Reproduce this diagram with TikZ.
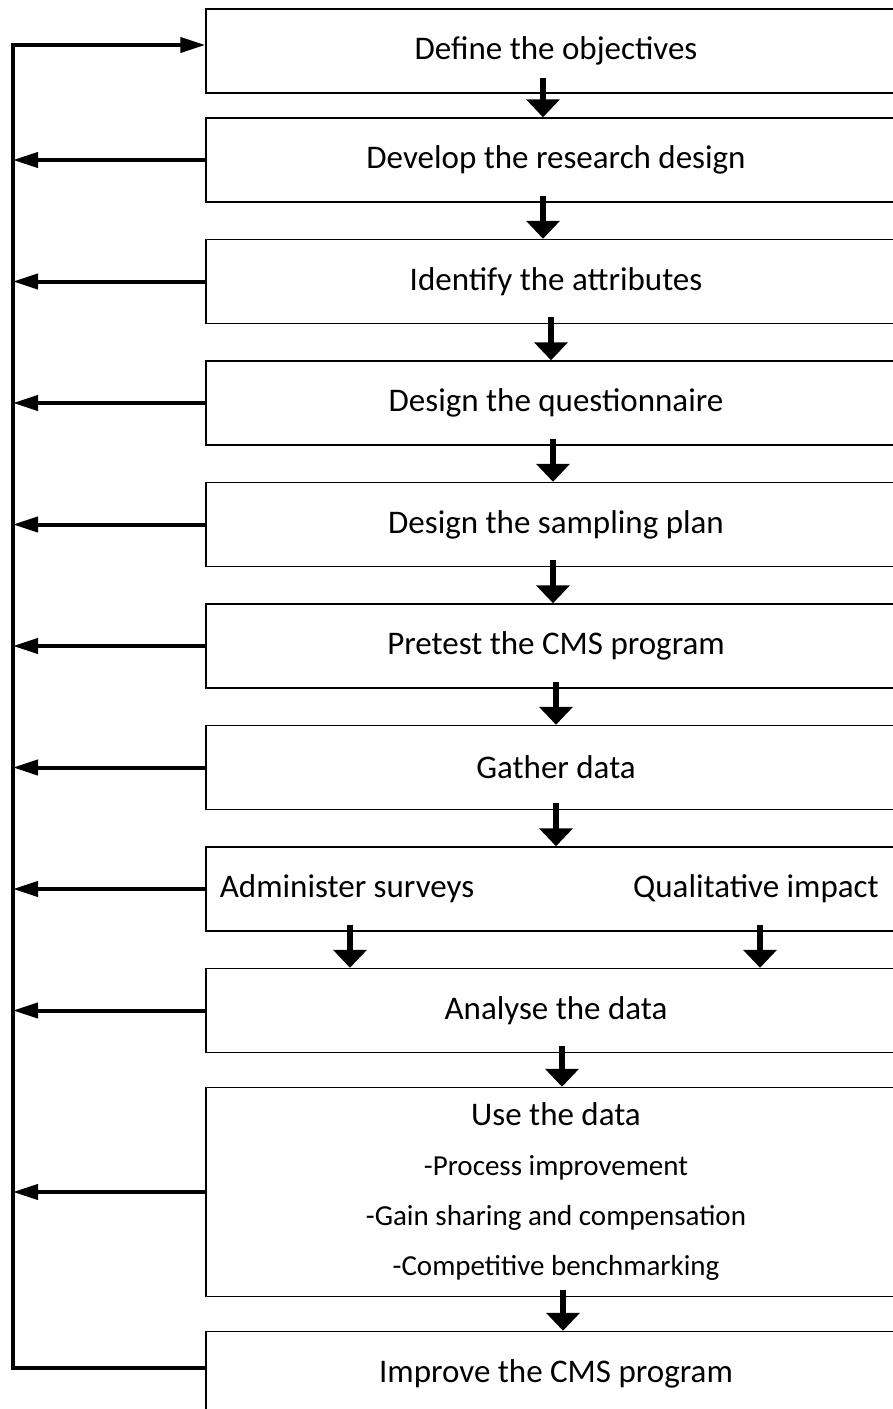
\documentclass[tikz,border=0pt]{standalone}
\usepackage{fontspec}
\setmainfont{Carlito}
\usetikzlibrary{arrows.meta,calc,positioning}
\tikzset{%
	stage/.style    = {draw, line width=0.75pt, rectangle, minimum width=350pt, minimum height=42pt, text centered, font=\fontsize{16.5}{20}\selectfont},
	usestage/.style = {stage, minimum height=104.5pt, align=center, font=\fontsize{16.5}{25}\selectfont},
	sublabel/.style = {inner sep=0pt, font=\fontsize{16.5}{20}\selectfont},
	flow/.style     = {line width=2.75pt, -{Triangle[length=9pt,width=16.5pt]}},
	feedback/.style = {line width=2pt, -{Triangle[length=12.5pt,width=7.5pt]}},
}
\newcommand{\subsize}{\fontsize{14.5}{25}\selectfont}

\begin{document}
\begin{tikzpicture}[node distance = 18pt]
	\useasboundingbox (0,0) rectangle (446.5pt,-704.5pt);
	\clip (0,0) rectangle (446.5pt,-704.5pt);
	\node[stage] (obj) at (278pt,-25.5pt) {Define the objectives};
	\node[stage,below=11.75pt of obj] (design) {Develop the research design};
	\node[stage,below=of design] (attrib) {Identify the attributes};
	\node[stage,below=of attrib] (quest) {Design the questionnaire};
	\node[stage,below=of quest] (sample) {Design the sampling plan};
	\node[stage,below=of sample] (pretest) {Pretest the CMS program};
	\node[stage,below=of pretest] (gather) {Gather data};
	\node[stage,below=of gather] (collect) {};
	\node[sublabel] (survey) at ([xshift=-104.5pt]collect.center) {Administer surveys};
	\node[sublabel] (impact) at ([xshift=100pt]collect.center) {Qualitative impact};
	\node[stage,below=of collect] (analyse) {Analyse the data};
	\node[usestage,below=16.75pt of analyse] (use) {Use the data\\\subsize -Process improvement\\\subsize -Gain sharing and compensation\\\subsize -Competitive benchmarking};
	\node[stage,below=16.75pt of use] (improve) {Improve the CMS program};
	\coordinate (rail) at (6.5pt,-22.5pt);

	\draw[flow] ([xshift=-6.5pt,yshift=8pt]obj.south) -- ([xshift=-6.5pt]design.north);
	\draw[flow] ([xshift=-6.5pt,yshift=3.5pt]design.south) -- ([xshift=-6.5pt]attrib.north);
	\draw[flow] ([xshift=-2.5pt,yshift=3.5pt]attrib.south) -- ([xshift=-2.5pt]quest.north);
	\draw[flow] ([xshift=-1.5pt,yshift=3.5pt]quest.south) -- ([xshift=-1.5pt]sample.north);
	\draw[flow] ([xshift=-1.5pt,yshift=3.5pt]sample.south) -- ([xshift=-1.5pt]pretest.north);
	\draw[flow] ([yshift=3.5pt]pretest.south) -- (gather.north);
	\draw[flow] ([yshift=3.5pt]gather.south) -- (collect.north);
	\draw[flow] ($(survey |- collect.south)+(1.5pt,3.5pt)$) -- ($(survey |- analyse.north)+(1.5pt,0)$);
	\draw[flow] ($(impact |- collect.south)+(2pt,3.5pt)$) -- ($(impact |- analyse.north)+(2pt,0)$);
	\draw[flow] ([xshift=3pt,yshift=3.5pt]analyse.south) -- ([xshift=3pt]use.north);
	\draw[flow] ([xshift=3.5pt,yshift=3.5pt]use.south) -- ([xshift=3.5pt]improve.north);

	% loop back to the objectives
	\draw[feedback] ([yshift=3pt]improve.west) -| (rail) -- ([yshift=3pt]obj.west);
	\draw[feedback] (design.west) -- (design.west -| rail);
	\draw[feedback] (attrib.west) -- (attrib.west -| rail);
	\draw[feedback] (quest.west) -- (quest.west -| rail);
	\draw[feedback] (sample.west) -- (sample.west -| rail);
	\draw[feedback] (pretest.west) -- (pretest.west -| rail);
	\draw[feedback] (gather.west) -- (gather.west -| rail);
	\draw[feedback] (collect.west) -- (collect.west -| rail);
	\draw[feedback] (analyse.west) -- (analyse.west -| rail);
	\draw[feedback] (use.west) -- (use.west -| rail);
\end{tikzpicture}
\end{document}
